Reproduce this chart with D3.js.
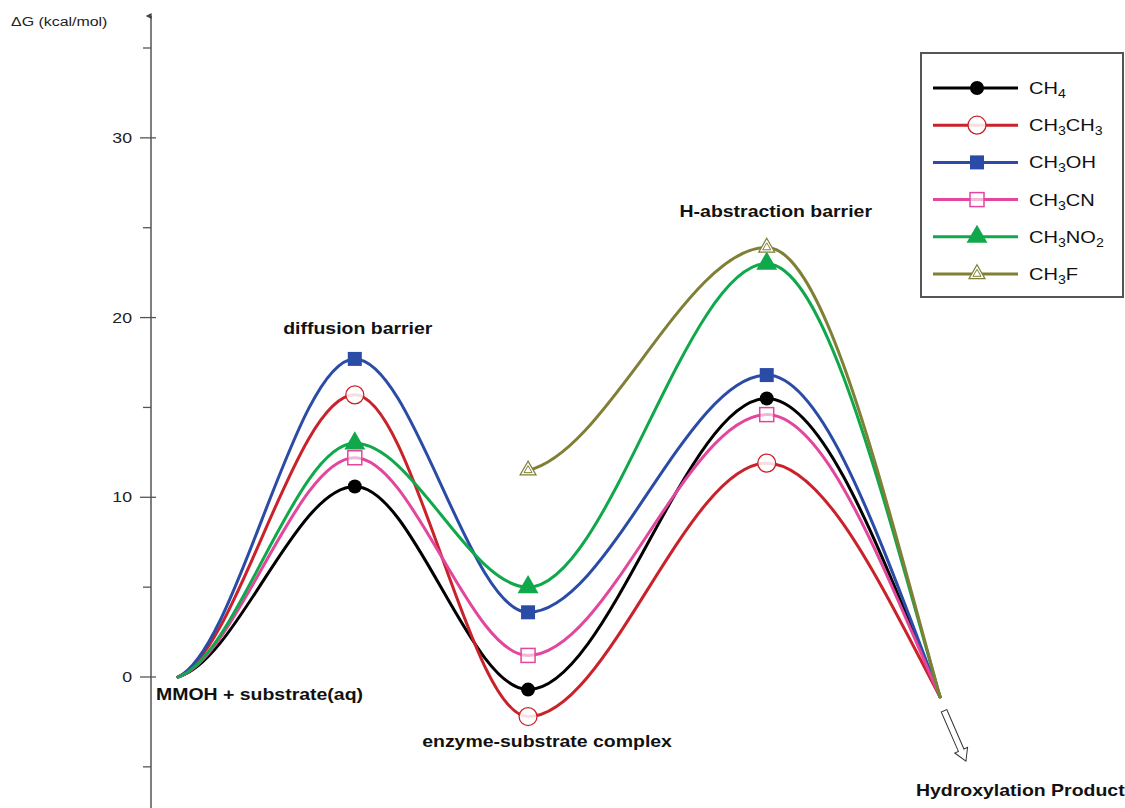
<!DOCTYPE html>
<html>
<head>
<meta charset="utf-8">
<script src="https://cdn.jsdelivr.net/npm/d3@7"></script>
<style>
  html, body { margin: 0; padding: 0; background: #fff; }
  svg { display: block; font-family: "Liberation Sans", Arial, sans-serif; }
</style>
</head>
<body>
<svg id="chart" width="1125" height="808"></svg>
<script>
// reaction coordinate of each stage and its label
const stageNames = ["MMOH + substrate(aq)", "diffusion barrier", "enzyme-substrate complex", "H-abstraction barrier", "Hydroxylation Product"];
const stageCoord = [0, 1, 1.98, 3.33, 4.31];

// free energies (kcal/mol) per stage, null = not computed
const ch4    = [0, 10.6, -0.7, 15.5, -1.1];
const ch3ch3 = [0, 15.7, -2.2, 11.9, -1.1];
const ch3oh  = [0, 17.7, 3.6, 16.8, -1.1];
const ch3cn  = [0, 12.2, 1.2, 14.6, -1.1];
const ch3no2 = [0, 13.0, 5.0, 23.0, -1.1];
const ch3f   = [null, null, 11.5, 23.9, -1.1];

const yTicks = [-5, 0, 5, 10, 15, 20, 25, 30, 35];
const yLabels = [0, 10, 20, 30];

const series = [
  { name: ["CH", "4"],              vals: ch4,    color: "#000000", marker: "dot" },
  { name: ["CH", "3", "CH", "3"],   vals: ch3ch3, color: "#c9222b", marker: "ring" },
  { name: ["CH", "3", "OH"],        vals: ch3oh,  color: "#2a4ba6", marker: "square" },
  { name: ["CH", "3", "CN"],        vals: ch3cn,  color: "#e2469d", marker: "osquare" },
  { name: ["CH", "3", "NO", "2"],   vals: ch3no2, color: "#10a84b", marker: "tri" },
  { name: ["CH", "3", "F"],         vals: ch3f,   color: "#7f7f35", marker: "otri" }
];

const svg = d3.select("#chart");
const x = d3.scaleLinear().domain([0, 4.31]).range([178, 940]);
const y = d3.scaleLinear().domain([0, 35]).range([677, 48]);
const axisX = 151;
const stretch = 1.18; // the source figure's lettering is a bit wide

function wideText(parent, px, py) {
  return parent.append("text")
    .attr("transform", `translate(${px},${py}) scale(${stretch},1)`);
}

// --- y axis ---
svg.append("defs").append("marker")
  .attr("id", "axhead").attr("viewBox", "0 0 10 10").attr("refX", 5).attr("refY", 9)
  .attr("markerWidth", 6).attr("markerHeight", 10).attr("orient", "auto-start-reverse")
  .attr("markerUnits", "userSpaceOnUse")
  .append("path").attr("d", "M0,10 L5,0 L10,10 Z").attr("fill", "#444");

svg.append("line")
  .attr("x1", axisX).attr("x2", axisX).attr("y1", 808).attr("y2", 16)
  .attr("stroke", "#555").attr("stroke-width", 1.5)
  .attr("marker-end", "url(#axhead)");

svg.selectAll("line.tick").data(yTicks).join("line")
  .attr("class", "tick")
  .attr("x1", d => yLabels.includes(d) ? 140 : 143)
  .attr("x2", d => yLabels.includes(d) ? 156 : 151)
  .attr("y1", d => y(d)).attr("y2", d => y(d))
  .attr("stroke", "#555").attr("stroke-width", 1.3);

yLabels.forEach(d => {
  wideText(svg, 132, y(d) + 5)
    .attr("text-anchor", "end").attr("font-size", 15).attr("fill", "#222")
    .text(d);
});

wideText(svg, 11, 26).attr("font-size", 13.5).attr("fill", "#222").text("ΔG (kcal/mol)");

// --- smooth energy profile: flat at stationary points ---
function profilePath(pts) {
  const p = d3.path();
  const n = pts.length;
  const slope = (a, b) => (b[1] - a[1]) / (b[0] - a[0]);
  const tan = pts.map((d, i) => {
    if (i === 0) return 0.25 * slope(pts[0], pts[1]);
    if (i === n - 1) return 1.4 * slope(pts[n - 2], pts[n - 1]);
    return 0;
  });
  p.moveTo(pts[0][0], pts[0][1]);
  for (let i = 1; i < n; i++) {
    const h = (pts[i][0] - pts[i - 1][0]) / 3;
    p.bezierCurveTo(pts[i - 1][0] + h, pts[i - 1][1] + tan[i - 1] * h,
                    pts[i][0] - h, pts[i][1] - tan[i] * h,
                    pts[i][0], pts[i][1]);
  }
  return p.toString();
}

const gLines = svg.append("g");
series.forEach(s => {
  const pts = s.vals.map((v, i) => v === null ? null : [x(stageCoord[i]), y(v)]).filter(d => d);
  gLines.append("path")
    .attr("d", profilePath(pts))
    .attr("fill", "none").attr("stroke", s.color)
    .attr("stroke-width", 3).attr("stroke-linecap", "round");
});

function drawMarker(g, type, color) {
  if (type === "dot") {
    g.append("circle").attr("r", 7).attr("fill", color);
  } else if (type === "ring") {
    g.append("circle").attr("r", 9).attr("fill", "#fff").attr("fill-opacity", 0.85)
      .attr("stroke", color).attr("stroke-width", 1.3);
  } else if (type === "square") {
    g.append("rect").attr("x", -7).attr("y", -7).attr("width", 14).attr("height", 14).attr("fill", color);
  } else if (type === "osquare") {
    g.append("rect").attr("x", -7).attr("y", -7).attr("width", 14).attr("height", 14)
      .attr("fill", "#fff").attr("fill-opacity", 0.6)
      .attr("stroke", color).attr("stroke-width", 1.5);
  } else if (type === "tri") {
    g.append("path").attr("d", d3.symbol(d3.symbolTriangle, 190)()).attr("fill", color);
  } else if (type === "otri") {
    g.append("path").attr("d", d3.symbol(d3.symbolTriangle, 110)())
      .attr("fill", "#fff").attr("stroke", color).attr("stroke-width", 1.2);
    g.append("path").attr("d", d3.symbol(d3.symbolTriangle, 28)())
      .attr("fill", "none").attr("stroke", color).attr("stroke-width", 1);
  }
}

const gMarks = svg.append("g");
series.forEach(s => {
  s.vals.forEach((v, i) => {
    if (v === null || i === 0 || i === stageCoord.length - 1) return;
    const g = gMarks.append("g").attr("transform", `translate(${x(stageCoord[i])},${y(v)})`);
    drawMarker(g, s.marker, s.color);
  });
});

// --- stage labels ---
const stageLabelPos = [
  { anchor: "start",  dx: -22, yv: -1.3 },
  { anchor: "middle", dx: 3,   yv: 19.1 },
  { anchor: "middle", dx: 19,  yv: -3.9 },
  { anchor: "middle", dx: 9,   yv: 25.6 },
  { anchor: "start",  dx: -24, yv: -6.6 }
];
stageNames.forEach((d, i) => {
  wideText(svg, x(stageCoord[i]) + stageLabelPos[i].dx, y(stageLabelPos[i].yv))
    .attr("text-anchor", stageLabelPos[i].anchor)
    .attr("font-size", 16.5).attr("font-weight", "bold").attr("fill", "#111")
    .text(d);
});

// hollow arrow toward the product
const arrow = svg.append("g")
  .attr("transform", `translate(${x(stageCoord[4]) + 4},${y(-1.1) + 14}) rotate(66.5)`);
arrow.append("path")
  .attr("d", "M0,-3 L43,-3 L43,-7 L55,0 L43,7 L43,3 L0,3 Z")
  .attr("fill", "#fff").attr("stroke", "#333").attr("stroke-width", 1);

// --- legend ---
const leg = svg.append("g").attr("transform", "translate(921,53)");
leg.append("rect").attr("width", 202).attr("height", 244)
  .attr("fill", "#fff").attr("stroke", "#555").attr("stroke-width", 2);

series.forEach((s, i) => {
  const row = leg.append("g").attr("transform", `translate(0,${35 + i * 37.2})`);
  row.append("line").attr("x1", 12).attr("x2", 97)
    .attr("stroke", s.color).attr("stroke-width", 3);
  drawMarker(row.append("g").attr("transform", "translate(56,0)"), s.marker, s.color);
  const t = wideText(row, 108, 6).attr("font-size", 17).attr("fill", "#111");
  s.name.forEach((part, j) => {
    const sub = j % 2 === 1;
    t.append("tspan")
      .attr("dy", sub ? 4 : (j > 0 ? -4 : 0))
      .attr("font-size", sub ? 12 : 17)
      .text(part);
  });
});
</script>
</body>
</html>
